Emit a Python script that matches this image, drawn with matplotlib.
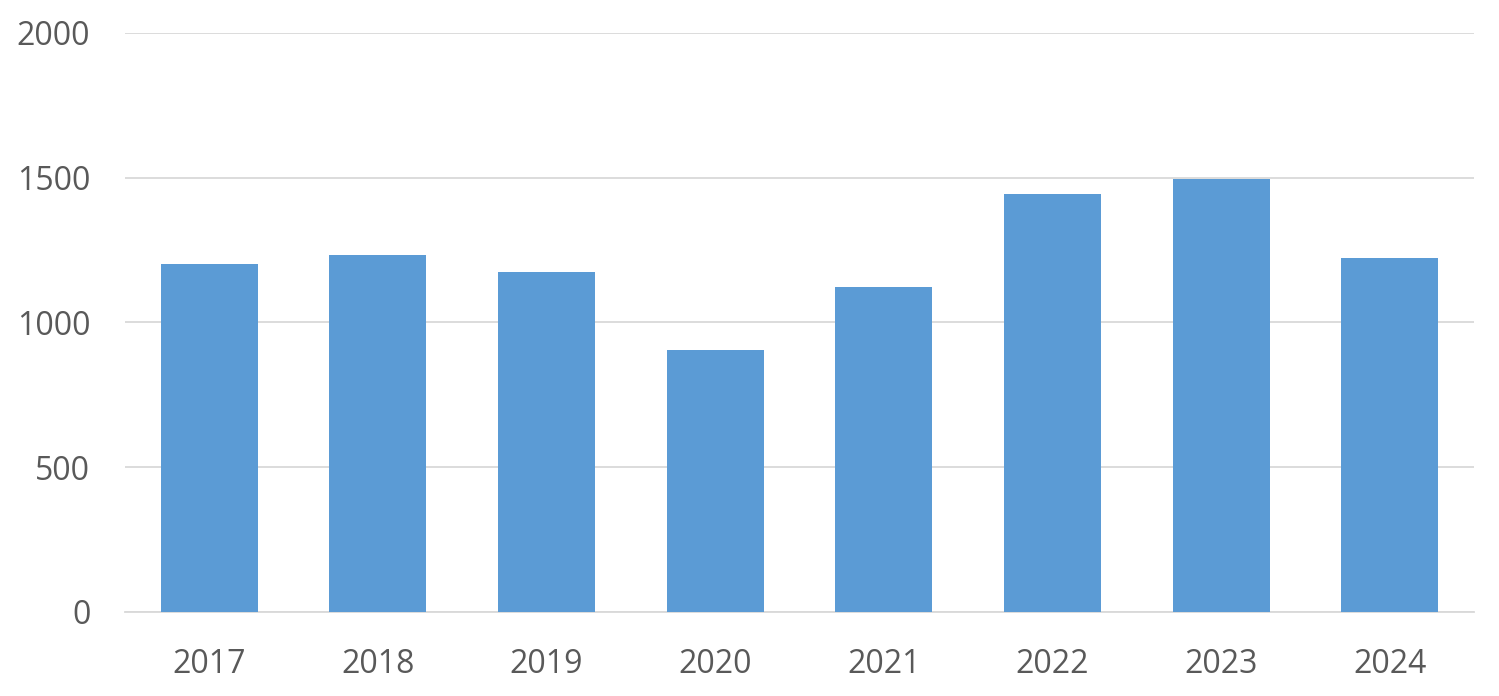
import matplotlib
matplotlib.use('Agg')
import matplotlib.pyplot as plt
import numpy as np

# ---------------------------------------------------------------------------
# Data
# ---------------------------------------------------------------------------

years = ['2017', '2018', '2019', '2020', '2021', '2022', '2023', '2024']
values = [1202, 1233, 1174, 905, 1123, 1444, 1496, 1223]
y_ticks = [0, 500, 1000, 1500, 2000]

BAR_COLOR = '#5b9bd5'
GRID_COLOR = '#d9d9d9'
TEXT_COLOR = '#595959'

plt.rcParams['font.family'] = ['Open Sans', 'DejaVu Sans']

fig = plt.figure(figsize=(14.99, 6.96), dpi=100)
ax = fig.add_axes([0.0834, 0.1207, 0.9, 0.8319])

x = np.arange(len(years))
ax.bar(x, values, width=0.575, color=BAR_COLOR, zorder=3)

ax.set_xlim(-0.5, len(years) - 0.5)
ax.set_ylim(0, 2000)
ax.set_xticks(x)
ax.set_xticklabels(years)
ax.set_yticks(y_ticks)

ax.grid(axis='y', color=GRID_COLOR, linewidth=1.3, zorder=0)
for side in ['top', 'right', 'left']:
    ax.spines[side].set_visible(False)
ax.spines['bottom'].set_color(GRID_COLOR)
ax.spines['bottom'].set_linewidth(1.3)

ax.tick_params(axis='both', length=0, labelsize=23, labelcolor=TEXT_COLOR)
ax.tick_params(axis='y', pad=25)
ax.tick_params(axis='x', pad=26)

fig.savefig('out.png', dpi=100)
